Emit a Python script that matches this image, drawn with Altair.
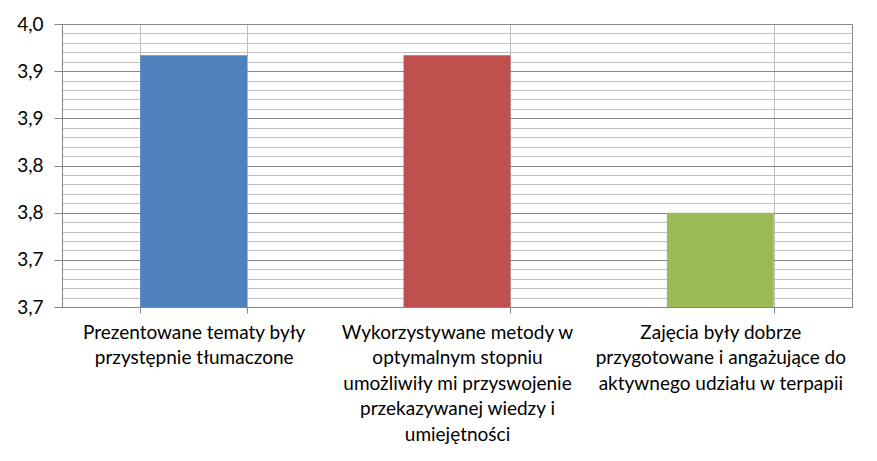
import altair as alt
import pandas as pd

categories = [
    "Prezentowane tematy były|przystępnie tłumaczone",
    "Wykorzystywane metody w|optymalnym stopniu|umożliwiły mi przyswojenie|przekazywanej wiedzy i|umiejętności",
    "Zajęcia były dobrze|przygotowane i angażujące do|aktywnego udziału w terpapii",
]
values = [3.917, 3.917, 3.75]
colors = ["#4F81BD", "#C0504D", "#9BBB59"]
major_ticks = [3.65, 3.70, 3.75, 3.80, 3.85, 3.90, 3.95]
minor_ticks = [3.65, 3.66, 3.67, 3.68, 3.69, 3.70, 3.71, 3.72, 3.73, 3.74,
               3.75, 3.76, 3.77, 3.78, 3.79, 3.80, 3.81, 3.82, 3.83, 3.84,
               3.85, 3.86, 3.87, 3.88, 3.89, 3.90, 3.91, 3.92, 3.93, 3.94, 3.95]

df = pd.DataFrame({"cat": categories, "val": values, "col": colors})

FONT = "Lato"

xscale = alt.Scale(domain=categories, paddingInner=0.594, paddingOuter=0.297)
yscale = alt.Scale(domain=[3.65, 3.95], nice=False, zero=False)

x_enc = alt.X("cat:N", scale=xscale, sort=None, title=None,
              axis=alt.Axis(labelAngle=0, tickBand="extent", grid=True,
                            gridColor="#BFBFBF", gridWidth=1,
                            domainColor="#868686", tickColor="#868686",
                            tickSize=6, labelPadding=10,
                            labelExpr="split(datum.label, '|')",
                            labelFont=FONT, labelFontSize=19, labelColor="#000000",
                            labelLineHeight=25.5, labelBaseline="top",
                            labelLimit=0))

minor_layer = alt.Chart(df).mark_bar(opacity=0, clip=True).encode(
    x=x_enc,
    y=alt.Y("val:Q", scale=yscale, title=None,
            axis=alt.Axis(orient="left", values=minor_ticks, grid=True,
                          gridColor="#C0C0C0", gridWidth=1, labels=False,
                          ticks=False, domain=False)),
)

bar_layer = alt.Chart(df).mark_bar(clip=True).encode(
    x=x_enc,
    y=alt.Y("val:Q", scale=yscale, title=None,
            axis=alt.Axis(orient="left", values=major_ticks, grid=True,
                          gridColor="#868686", gridWidth=1,
                          domainColor="#868686", tickColor="#868686",
                          tickSize=8, labelPadding=11,
                          labelExpr="replace(format(round(datum.value*10+0.000001)/10, '.1f'), '.', ',')",
                          labelFont=FONT, labelFontSize=19, labelColor="#000000")),
    color=alt.Color("col:N", scale=None, legend=None),
)

chart = alt.layer(minor_layer, bar_layer).resolve_axis(y="independent").properties(
    width=790, height=283,
    autosize=alt.AutoSizeParams(type="none"),
    padding={"left": 54, "top": 16, "right": 10, "bottom": 145},
    background="#FFFFFF",
).configure_view(stroke="#868686", strokeWidth=1)

chart.save("out.html", embed_options={"renderer": "svg", "actions": False})
